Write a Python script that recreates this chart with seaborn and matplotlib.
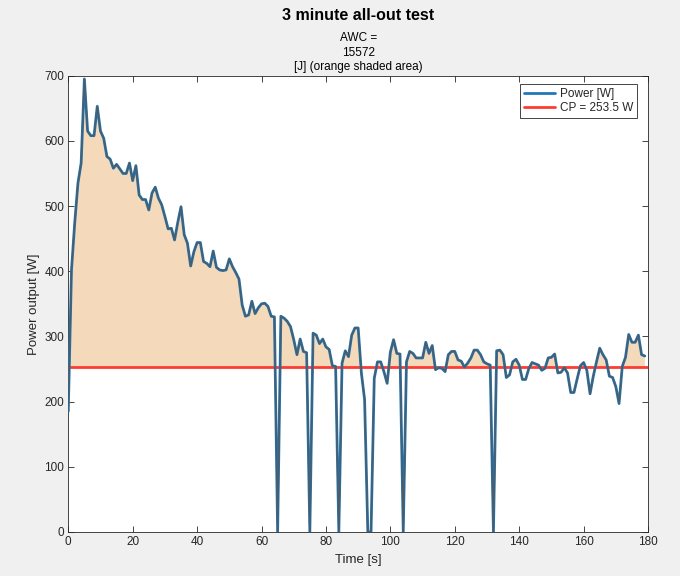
import numpy as np
import pandas as pd
import matplotlib
matplotlib.use("Agg")
import matplotlib.pyplot as plt
import seaborn as sns

# 3-minute all-out cycling test, 1 Hz power samples
time_s = list(range(180))
power_w = [
    185, 402, 474, 535, 566, 695, 615, 608, 608, 653,
    615, 604, 576, 572, 558, 564, 557, 550, 550, 566,
    539, 562, 517, 510, 510, 494, 520, 529, 512, 502,
    484, 465, 466, 448, 475, 499, 456, 443, 408, 430,
    444, 444, 415, 412, 407, 431, 406, 402, 401, 402,
    419, 407, 398, 388, 348, 331, 333, 354, 335, 344,
    350, 351, 346, 331, 330, 0, 331, 328, 323, 315,
    295, 272, 296, 277, 275, 0, 305, 302, 289, 296,
    284, 280, 255, 254, 0, 259, 278, 269, 302, 313,
    313, 244, 203, 0, 0, 236, 261, 261, 246, 228,
    276, 295, 274, 273, 0, 261, 277, 274, 267, 267,
    267, 291, 274, 286, 249, 252, 251, 246, 272, 277,
    277, 264, 262, 253, 259, 267, 279, 279, 272, 261,
    258, 256, 0, 278, 279, 272, 237, 241, 261, 265,
    256, 234, 234, 251, 260, 258, 256, 248, 251, 267,
    268, 273, 244, 245, 252, 244, 214, 214, 235, 255,
    260, 248, 212, 239, 261, 282, 272, 264, 239, 237,
    223, 197, 254, 268, 303, 291, 291, 302, 272, 270,
]
cp_w = 253.5
awc_j = 15572

x_ticks = list(range(0, 181, 20))
y_ticks = list(range(0, 701, 100))

sns.set_style("ticks")
plt.rcParams["font.family"] = ["Liberation Sans", "DejaVu Sans"]

ink = "#262626"
fig = plt.figure(figsize=(6.8, 5.76), dpi=100, facecolor="#F0F0F0")
ax = fig.add_axes([0.1004, 0.0764, 0.8526, 0.7922])
ax.set_facecolor("white")

df = pd.DataFrame({"Time": time_s, "Power": power_w})
t = df["Time"].to_numpy(float)
p = df["Power"].to_numpy(float)

# work above CP shaded in orange
ax.fill_between(t, p, cp_w, where=p > cp_w, interpolate=True,
                color="#F5D9BB", linewidth=0, zorder=1)
ax.axhline(cp_w, color="#FF3B2F", lw=2.0, zorder=2, label=f"CP = {cp_w} W")
sns.lineplot(data=df, x="Time", y="Power", ax=ax, color="#1F78B8",
             linewidth=2.0, zorder=3, label="Power [W]")
# darker edge of the shaded area
ax.plot(t, p, color="#5a5450", lw=1.1, alpha=0.75, zorder=4)

ax.set_xlim(0, 180)
ax.set_ylim(0, 700)
ax.set_xticks(x_ticks)
ax.set_yticks(y_ticks)
ax.tick_params(direction="in", top=True, right=True, length=4, width=0.6,
               colors=ink, labelsize=8.5, pad=3)
for s in ax.spines.values():
    s.set_color(ink)
    s.set_linewidth(0.6)
    s.set_visible(True)

ax.set_xlabel("Time [s]", fontsize=9.5, color=ink, labelpad=4)
ax.set_ylabel("Power output [W]", fontsize=9.5, color=ink, labelpad=3)

handles, labels = ax.get_legend_handles_labels()
order = [labels.index("Power [W]"), labels.index(f"CP = {cp_w} W")]
leg = ax.legend([handles[i] for i in order], [labels[i] for i in order],
                loc="upper right", bbox_to_anchor=(0.981, 0.981),
                fontsize=8.5, handlelength=2.7, fancybox=False,
                edgecolor=ink, framealpha=1, borderpad=0.3,
                labelspacing=0.2, handletextpad=0.4, borderaxespad=0)
leg.get_frame().set_linewidth(0.6)

cx = 0.1004 + 0.8526 / 2
fig.text(cx, 1 - 16 / 576, "3 minute all-out test", ha="center", va="center",
         fontsize=11.5, fontweight="bold", color="black")
fig.text(cx, 1 - 38 / 576, "AWC =", ha="center", va="center", fontsize=8.5, color="black")
fig.text(cx, 1 - 53 / 576, f"{awc_j}", ha="center", va="center", fontsize=8.5, color="black")
fig.text(cx, 1 - 67 / 576, "[J] (orange shaded area)", ha="center", va="center",
         fontsize=8.5, color="black")

fig.savefig("out.png", dpi=100, facecolor=fig.get_facecolor())
